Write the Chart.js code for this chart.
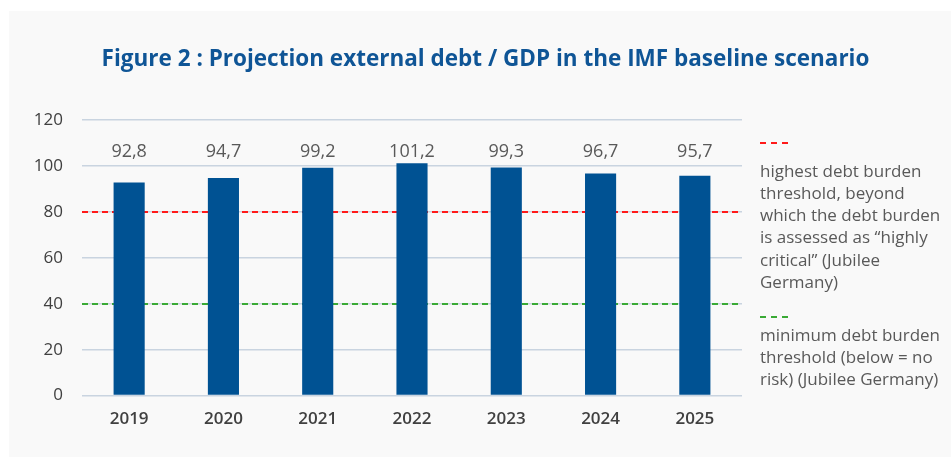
<!DOCTYPE html>
<html>
<head>
<meta charset="utf-8">
<script src="https://cdn.jsdelivr.net/npm/chart.js@4.4.1/dist/chart.umd.min.js"></script>
<style>
  html, body { margin: 0; padding: 0; background: #ffffff; }
  #wrap { position: relative; width: 951px; height: 457px; }
  canvas { display: block; }
</style>
</head>
<body>
<div id="wrap"><canvas id="c" width="951" height="457"></canvas></div>
<script>
// ---- data ----
const years = ['2019', '2020', '2021', '2022', '2023', '2024', '2025'];
const debtToGdp = [92.8, 94.7, 99.2, 101.2, 99.3, 96.7, 95.7];
const valueLabels = ['92,8', '94,7', '99,2', '101,2', '99,3', '96,7', '95,7'];
const yTicks = [0, 20, 40, 60, 80, 100, 120];
const thresholdValues = [80, 40];
const thresholdColors = ['#ff1a1a', '#3aaa35'];
const thresholdTexts = [
  ['highest debt burden', 'threshold, beyond', 'which the debt burden', 'is assessed as \u201chighly', 'critical\u201d (Jubilee', 'Germany)'],
  ['minimum debt burden', 'threshold (below = no', 'risk) (Jubilee Germany)']
];
const titleText = 'Figure 2 : Projection external debt / GDP in the IMF baseline scenario';

const FONT = "'Open Sans', 'Noto Sans', sans-serif";

const bgPlugin = {
  id: 'bg',
  beforeDraw(chart) {
    const ctx = chart.ctx;
    ctx.save();
    ctx.fillStyle = '#f9f9f9';
    ctx.fillRect(9, 11, chart.width - 9, chart.height - 11);
    ctx.restore();
  }
};

const extrasPlugin = {
  id: 'extras',
  beforeDatasetsDraw(chart) {
    const ctx = chart.ctx;
    const y = chart.scales.y;
    const area = chart.chartArea;
    ctx.save();
    // threshold dashed lines (behind the bars)
    thresholdValues.forEach((v, i) => {
      const py = Math.round(y.getPixelForValue(v));
      ctx.strokeStyle = thresholdColors[i];
      ctx.lineWidth = 2;
      ctx.setLineDash([6, 4]);
      ctx.beginPath();
      ctx.moveTo(area.left, py);
      ctx.lineTo(area.right, py);
      ctx.stroke();
    });
    ctx.restore();
  },
  afterDatasetsDraw(chart) {
    const ctx = chart.ctx;
    const x = chart.scales.x, y = chart.scales.y;
    ctx.save();
    // value labels at a fixed height above the bars
    ctx.fillStyle = '#595959';
    ctx.font = '18px ' + FONT;
    ctx.textAlign = 'center';
    ctx.textBaseline = 'middle';
    const ly = y.getPixelForValue(106);
    valueLabels.forEach((t, i) => {
      ctx.fillText(t, x.getPixelForValue(i), ly);
    });
    // legend
    const lx = 760;
    const blocks = [
      { dashY: 143, textY: 172 },
      { dashY: 317, textY: 336 }
    ];
    blocks.forEach((b, i) => {
      ctx.strokeStyle = thresholdColors[i];
      ctx.lineWidth = 2;
      ctx.setLineDash([6, 5]);
      ctx.beginPath();
      ctx.moveTo(lx, b.dashY);
      ctx.lineTo(lx + 33, b.dashY);
      ctx.stroke();
      ctx.setLineDash([]);
      ctx.fillStyle = '#595959';
      ctx.font = '17px ' + FONT;
      ctx.textAlign = 'left';
      ctx.textBaseline = 'middle';
      thresholdTexts[i].forEach((line, j) => {
        ctx.fillText(line, lx, b.textY + j * 22.2);
      });
    });
    ctx.restore();
  }
};

new Chart(document.getElementById('c'), {
  type: 'bar',
  data: {
    labels: years,
    datasets: [{
      label: 'External debt / GDP',
      data: debtToGdp,
      backgroundColor: '#005293',
      barPercentage: 0.33,
      categoryPercentage: 1.0
    }]
  },
  options: {
    responsive: false,
    animation: false,
    devicePixelRatio: 1,
    layout: { padding: { left: 20, right: 0, top: 0, bottom: 15 } },
    plugins: {
      legend: { display: false },
      tooltip: { enabled: false },
      title: {
        display: true,
        text: titleText,
        color: '#0f5596',
        font: { family: FONT, size: 22.5, weight: 'bold', lineHeight: 1.2 },
        padding: { top: 46, bottom: 47 }
      }
    },
    scales: {
      x: {
        grid: { display: false, drawTicks: false },
        border: { display: false },
        ticks: {
          color: '#404040',
          font: { family: FONT, size: 17, weight: '600', lineHeight: 1.2 },
          padding: 13,
          maxRotation: 0
        }
      },
      y: {
        min: 0,
        max: 120,
        afterBuildTicks(scale) { scale.ticks = yTicks.map(v => ({ value: v })); },
        afterFit(scale) { scale.width = 62; },
        grid: { color: '#c9d4e0', lineWidth: 1.6, drawTicks: false },
        border: { display: false },
        ticks: {
          color: '#404040',
          font: { family: FONT, size: 17, lineHeight: 1.2 },
          padding: 19
        }
      },
      legendSpace: {
        type: 'linear',
        position: 'right',
        display: true,
        afterFit(scale) { scale.width = 209; },
        grid: { display: false, drawTicks: false },
        border: { display: false },
        ticks: { display: false }
      }
    }
  },
  plugins: [bgPlugin, extrasPlugin]
});
</script>
</body>
</html>
